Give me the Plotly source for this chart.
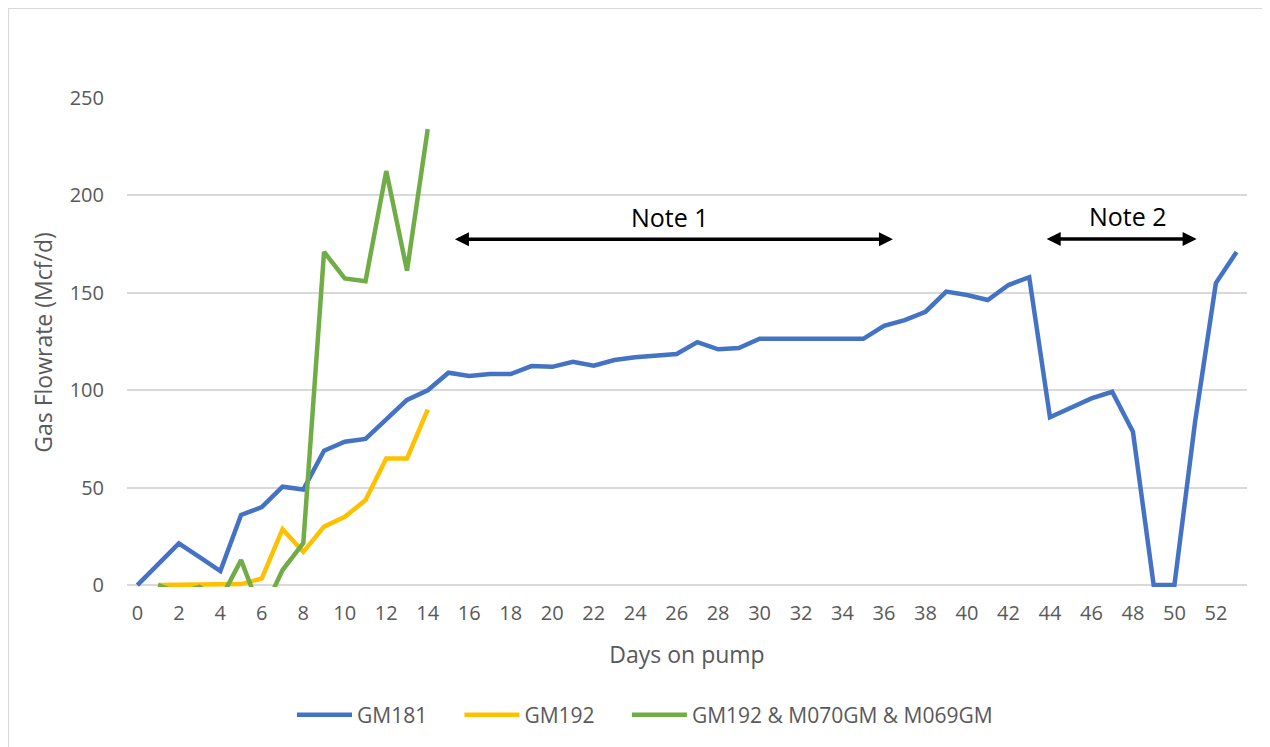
import plotly.graph_objects as go

# ---- data ----
days_gm181 = list(range(0, 54))
gm181 = [0, 10.7, 21.4, 14.3, 7.2, 36, 40, 50.5, 49, 69,
         73.6, 75, 84.7, 95, 100, 109, 107.3, 108.3, 108.3, 112.4,
         112, 114.6, 112.6, 115.5, 116.9, 117.9, 118.6, 124.7, 121, 121.7,
         126.4, 126.4, 126.4, 126.4, 126.4, 126.4, 133, 136, 140.3, 150.6,
         148.9, 146.3, 154, 158, 86.1, 90.7, 95.8, 99.2, 78.7, 0,
         0, 84, 155, 171]

days_gm192 = list(range(1, 15))
gm192 = [0, 0, 0, 0, 0.5, 3.4, 28.7, 17, 30, 35, 43.6, 65, 65, 90]

days_combo = list(range(1, 15))
combo = [0, -4, -1, -7.5, 12.8, -15, 7.7, 21.5, 171, 157.4, 156, 212.5, 161.4, 234]

series_names = ["GM181", "GM192", "GM192 & M070GM & M069GM"]
series_colors = ["#4472C4", "#FFC000", "#70AD47"]

x_ticks = list(range(0, 53, 2))
y_ticks = [0, 50, 100, 150, 200, 250]

notes = ["Note 1", "Note 2"]
note_start = [15.24, 43.77]
note_end = [36.43, 51.07]
note_arrow_y = [177.5, 177.6]
note_text_x = [25.67, 47.75]
note_text_y = [189.1, 189.4]

FONT = "Open Sans"
GRAY = "#595959"
PAD = "\u00a0" * 5  # extra spacing between legend entries

fig = go.Figure()
n = len(series_names)
for i, (xs, ys, name, col) in enumerate(zip([days_gm181, days_gm192, days_combo],
                                            [gm181, gm192, combo], series_names, series_colors)):
    label = name + (PAD if i < n - 1 else "")
    fig.add_trace(go.Scatter(x=xs, y=ys, mode="lines", name=label,
                             line=dict(color=col, width=4.5)))

for i in range(len(notes)):
    fig.add_annotation(x=note_end[i], y=note_arrow_y[i], ax=note_start[i], ay=note_arrow_y[i],
                       xref="x", yref="y", axref="x", ayref="y", text="",
                       showarrow=True, arrowside="end+start", arrowhead=2,
                       arrowsize=0.8, arrowwidth=3.5, arrowcolor="black",
                       standoff=0, startstandoff=0)
    fig.add_annotation(x=note_text_x[i], y=note_text_y[i], xref="x", yref="y",
                       text=notes[i], showarrow=False,
                       font=dict(family=FONT, size=25, color="black"))

# chart border (partially cropped like the reference)
fig.add_shape(type="rect", xref="paper", yref="paper",
              x0=-0.1058, x1=1.06, y0=-0.36, y1=1.1834,
              line=dict(color="#d9d9d9", width=1.2), fillcolor="rgba(0,0,0,0)",
              layer="below")

fig.update_layout(
    width=1262, height=739,
    margin=dict(l=119, r=23, t=90, b=160),
    paper_bgcolor="white", plot_bgcolor="white",
    font=dict(family=FONT, size=20, color=GRAY),
    showlegend=True,
    legend=dict(orientation="h", x=0.4625, xanchor="center", y=-0.262, yanchor="middle",
                font=dict(family=FONT, size=21, color=GRAY), traceorder="normal",
                itemwidth=55),
    xaxis=dict(range=[-0.5, 53.5], tickvals=x_ticks, showgrid=False, zeroline=False,
               showline=False, ticks="", ticklabelstandoff=12,
               tickfont=dict(family=FONT, size=20, color=GRAY),
               title=dict(text="Days on pump", standoff=21,
                          font=dict(family=FONT, size=23, color=GRAY))),
    yaxis=dict(range=[-1, 250], tickvals=y_ticks, showgrid=True, gridcolor="#d9d9d9",
               gridwidth=1.5, zeroline=False, showline=False, ticks="",
               ticklabelstandoff=22,
               tickfont=dict(family=FONT, size=20, color=GRAY),
               title=dict(text="Gas Flowrate (Mcf/d)", standoff=10,
                          font=dict(family=FONT, size=23, color=GRAY))),
)

fig.write_html("out.html")
